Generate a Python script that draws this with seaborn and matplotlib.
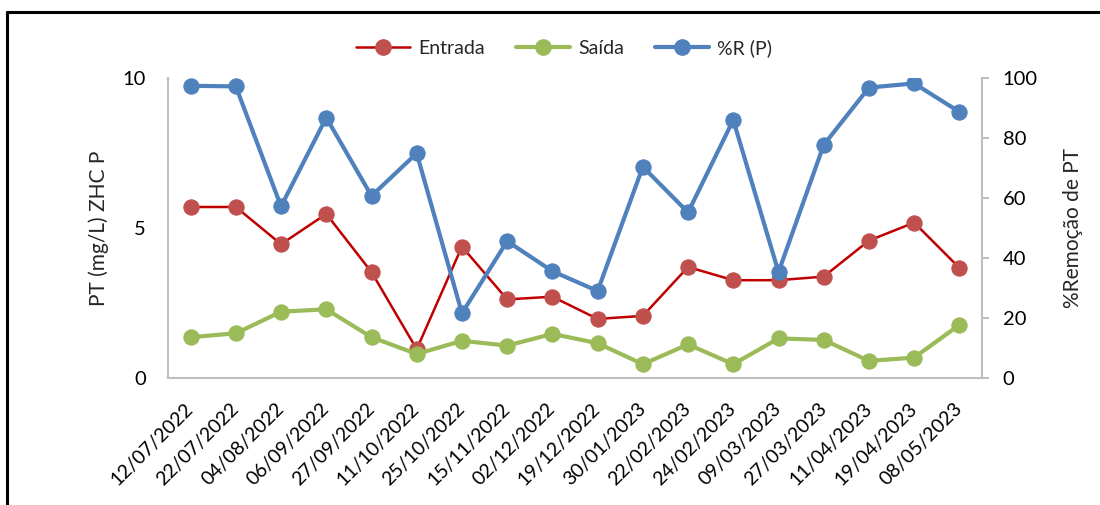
import matplotlib
matplotlib.use("Agg")
import matplotlib.pyplot as plt
from matplotlib.lines import Line2D
import seaborn as sns
import pandas as pd

dates = ["12/07/2022", "22/07/2022", "04/08/2022", "06/09/2022", "27/09/2022",
         "11/10/2022", "25/10/2022", "15/11/2022", "02/12/2022", "19/12/2022",
         "30/01/2023", "22/02/2023", "24/02/2023", "09/03/2023", "27/03/2023",
         "11/04/2023", "19/04/2023", "08/05/2023"]
entrada = [5.70, 5.70, 4.46, 5.47, 3.53, 0.96, 4.38, 2.62, 2.71, 1.97,
           2.07, 3.70, 3.26, 3.26, 3.38, 4.58, 5.18, 3.67]
saida = [1.36, 1.49, 2.21, 2.29, 1.36, 0.80, 1.24, 1.08, 1.47, 1.16,
         0.46, 1.12, 0.46, 1.32, 1.27, 0.57, 0.68, 1.77]
remocao = [97.4, 97.2, 57.2, 86.8, 60.7, 74.9, 21.6, 45.6, 35.6, 29.0,
           70.4, 55.2, 86.0, 35.3, 77.7, 96.8, 98.2, 88.7]

left_ticks = [0, 5, 10]
right_ticks = [0, 20, 40, 60, 80, 100]

df = pd.DataFrame({"Data": dates, "Entrada": entrada, "Saída": saida, "%R (P)": remocao})

sns.set_theme(style="white")
plt.rcParams["font.family"] = ["Lato", "DejaVu Sans"]

RED_LINE = "#C00000"
RED_MK = "#C0504D"
GREEN = "#9BBB59"
BLUE = "#4F81BD"
SPINE = "#BFBFBF"

fig = plt.figure(figsize=(11, 5.05), dpi=100)
ax = fig.add_axes([168 / 1100, 127 / 505, (982 - 168) / 1100, 300 / 505])
ax2 = ax.twinx()

ms = 11
sns.lineplot(data=df, x="Data", y="Entrada", ax=ax, sort=False, color=RED_LINE,
             lw=1.8, marker="o", markersize=ms, markerfacecolor=RED_MK,
             markeredgecolor=RED_MK, zorder=3)
sns.lineplot(data=df, x="Data", y="Saída", ax=ax, sort=False, color=GREEN,
             lw=3.0, marker="o", markersize=ms, markerfacecolor=GREEN,
             markeredgecolor=GREEN, zorder=4)
sns.lineplot(data=df, x="Data", y="%R (P)", ax=ax2, sort=False, color=BLUE,
             lw=3.0, marker="o", markersize=ms, markerfacecolor=BLUE,
             markeredgecolor=BLUE, zorder=5)

ax.set_xlim(-0.5, len(dates) - 0.5)
ax.set_ylim(0, 10)
ax2.set_ylim(0, 100)
ax.set_yticks(left_ticks)
ax2.set_yticks(right_ticks)

for a in (ax, ax2):
    for s in a.spines.values():
        s.set_visible(False)
ax.spines["left"].set_visible(True)
ax.spines["bottom"].set_visible(True)
ax2.spines["right"].set_visible(True)
for s in (ax.spines["left"], ax.spines["bottom"], ax2.spines["right"]):
    s.set_color(SPINE)
    s.set_linewidth(1.5)

ax.tick_params(axis="y", left=False, length=0, pad=16, labelsize=14.5, labelcolor="black")
ax.tick_params(axis="x", bottom=False, length=0, pad=6, labelsize=14, labelcolor="black")
ax2.tick_params(axis="y", right=True, length=5, width=1.5, color=SPINE, pad=10,
                labelsize=14.5, labelcolor="black")

ax.set_xticks(range(len(dates)))
ax.set_xticklabels(dates, rotation=45, ha="right", va="center", rotation_mode="anchor")
for lbl in ax.get_xticklabels():
    lbl.set_y(-0.065)

ax.set_xlabel("")
ax.set_ylabel("PT (mg/L) ZHC P", fontsize=15, labelpad=10)
ax2.set_ylabel("%Remoção de PT", fontsize=15, labelpad=18)

handles = [
    Line2D([], [], color=RED_LINE, lw=1.8, marker="o", markersize=ms,
           markerfacecolor=RED_MK, markeredgecolor=RED_MK),
    Line2D([], [], color=GREEN, lw=3.0, marker="o", markersize=ms,
           markerfacecolor=GREEN, markeredgecolor=GREEN),
    Line2D([], [], color=BLUE, lw=3.0, marker="o", markersize=ms,
           markerfacecolor=BLUE, markeredgecolor=BLUE),
]
fig.legend(handles, ["Entrada", "Saída", "%R (P)"], loc="center",
           bbox_to_anchor=(564 / 1100, 1 - 48 / 505), ncol=3, frameon=False,
           fontsize=14, handlelength=2.8, columnspacing=1.6, handletextpad=0.4)

# outer chart border (top and left edges visible)
fig.add_artist(Line2D([7 / 1100, 1.0], [1 - 12 / 505, 1 - 12 / 505],
                      transform=fig.transFigure, color="black", lw=2.2))
fig.add_artist(Line2D([7 / 1100, 7 / 1100], [0.0, 1 - 12 / 505],
                      transform=fig.transFigure, color="black", lw=2.2))

fig.savefig("out.png", dpi=100, facecolor="white")
